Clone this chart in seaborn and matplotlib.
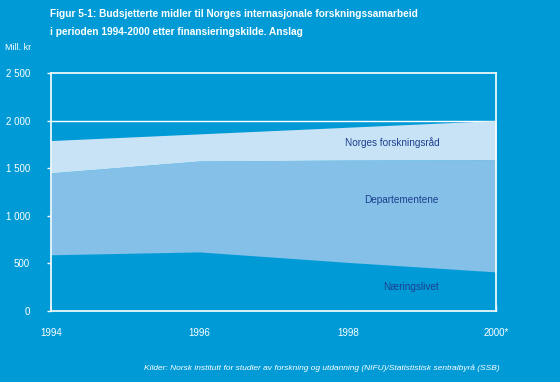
import numpy as np
import pandas as pd
import seaborn as sns
import matplotlib.pyplot as plt
from matplotlib.ticker import FuncFormatter

years = [1994, 1996, 1998, 2000]
naeringslivet = [590, 620, 510, 410]
departementene = [860, 955, 1075, 1180]
forskningsraad = [340, 285, 345, 410]
series_names = ["Næringslivet", "Departementene", "Norges forskningsråd"]
x_labels = ["1994", "1996", "1998", "2000*"]

bg = "#009bd7"
colors = [bg, "#84c0e7", "#c8e3f6"]
navy = "#1d3f8f"

df = pd.DataFrame({"År": years, series_names[0]: naeringslivet,
                   series_names[1]: departementene, series_names[2]: forskningsraad})

sns.set_theme(style="white", rc={"axes.facecolor": bg, "figure.facecolor": bg,
                                 "axes.edgecolor": "white", "text.color": "white",
                                 "xtick.color": "white", "ytick.color": "white"})
plt.rcParams["font.family"] = ["Liberation Sans Narrow", "Liberation Sans", "DejaVu Sans"]

fig = plt.figure(figsize=(5.6, 3.82), dpi=100)
ax = fig.add_axes([0.091, 0.186, 0.795, 0.623])

ax.stackplot(df["År"], df[series_names[0]], df[series_names[1]], df[series_names[2]],
             colors=colors, linewidth=0, zorder=2)
ax.axhline(2000, color="white", lw=1, zorder=1)

ax.set_xlim(1994, 2000)
ax.set_ylim(0, 2500)
ax.set_xticks(years)
ax.set_xticklabels(x_labels)
ax.set_yticks([0, 500, 1000, 1500, 2000, 2500])
ax.yaxis.set_major_formatter(FuncFormatter(lambda v, p: f"{int(v):,}".replace(",", " ")))
ax.tick_params(axis="x", direction="in", length=4, width=1, labelsize=7, pad=12)
ax.tick_params(axis="y", direction="out", length=3, width=1, labelsize=7, pad=12)
ax.tick_params(left=True, bottom=True)
for s in ax.spines.values():
    s.set_color("white")
    s.set_linewidth(1.2)
    s.set_zorder(3)
ax.set_xlabel("")
ax.set_ylabel("")

ax.text(1998.6, 1765, "Norges forskningsråd", color=navy, fontsize=7.2, ha="center", va="center", zorder=4)
ax.text(1998.72, 1166, "Departementene", color=navy, fontsize=7.2, ha="center", va="center", zorder=4)
ax.text(1998.85, 252, "Næringslivet", color=navy, fontsize=7.2, ha="center", va="center", zorder=4)

fig.text(50 / 560, 1 - 14 / 382, "Figur 5-1: Budsjetterte midler til Norges internasjonale forskningssamarbeid",
         fontsize=7.3, fontweight="bold", va="center", ha="left")
fig.text(50 / 560, 1 - 32 / 382, "i perioden 1994-2000 etter finansieringskilde. Anslag",
         fontsize=7.3, fontweight="bold", va="center", ha="left")
fig.text(5 / 560, 1 - 47 / 382, "Mill. kr", fontsize=6.5, va="center", ha="left")
fig.text(500 / 560, 1 - 368 / 382,
         "Kilder: Norsk institutt for studier av forskning og utdanning (NIFU)/Statististisk sentralbyrå (SSB)",
         fontsize=6, style="italic", va="center", ha="right")

fig.savefig("out.png", dpi=100, facecolor=bg)
